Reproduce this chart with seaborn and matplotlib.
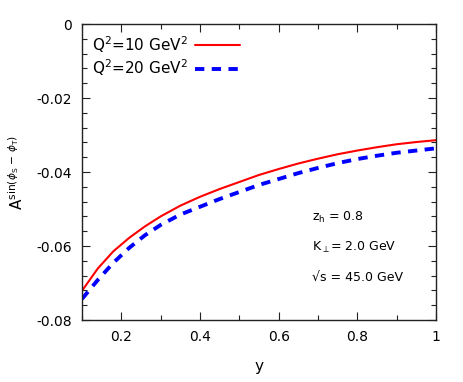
import numpy as np
import pandas as pd
import matplotlib
matplotlib.use("Agg")
import matplotlib.pyplot as plt
import seaborn as sns
from matplotlib.ticker import MultipleLocator

y_vals = [0.1, 0.14, 0.18, 0.22, 0.26, 0.3, 0.35, 0.4, 0.45, 0.5,
          0.55, 0.6, 0.65, 0.7, 0.75, 0.8, 0.85, 0.9, 0.95, 1.0]
A_q10 = [-0.0721, -0.0661, -0.0614, -0.0578, -0.0547, -0.0520, -0.0491, -0.0467, -0.0446, -0.0427,
         -0.0408, -0.0392, -0.0377, -0.0364, -0.0352, -0.0342, -0.0333, -0.0325, -0.0319, -0.0314]
A_q20 = [-0.0743, -0.0692, -0.0645, -0.0605, -0.0571, -0.0543, -0.0515, -0.0494, -0.0473, -0.0454,
         -0.0435, -0.0419, -0.0403, -0.0389, -0.0376, -0.0365, -0.0356, -0.0348, -0.0342, -0.0336]
labels = [r"Q$^2$=10 GeV$^2$", r"Q$^2$=20 GeV$^2$"]

sns.set_style("ticks")
plt.rcParams['font.family'] = ['DejaVu Sans']
plt.rcParams['mathtext.fontset'] = 'dejavusans'
plt.rcParams['text.color'] = 'black'
plt.rcParams['axes.labelcolor'] = 'black'
plt.rcParams['xtick.color'] = 'black'
plt.rcParams['ytick.color'] = 'black'

df = pd.DataFrame({
    "y": y_vals * 2,
    "A": A_q10 + A_q20,
    "Q2": [labels[0]] * len(y_vals) + [labels[1]] * len(y_vals),
})

fig = plt.figure(figsize=(4.63, 3.82), dpi=100)
ax = fig.add_axes([82/463, 1 - 320/382, (436-82)/463, (320-24)/382])

sns.lineplot(data=df, x="y", y="A", hue="Q2", style="Q2",
             palette={labels[0]: "#ff0000", labels[1]: "#0000ff"},
             dashes={labels[0]: "", labels[1]: (2.4, 1.9)},
             linewidth=1.5, ax=ax)
for ln in ax.get_lines():
    if ln.get_color() == "#0000ff":
        ln.set_linewidth(2.8)

ax.set_xlim(0.1, 1.0)
ax.set_ylim(-0.08, 0.0)
ax.xaxis.set_minor_locator(MultipleLocator(0.1))
ax.yaxis.set_minor_locator(MultipleLocator(0.004))
ax.set_xticks([0.2, 0.4, 0.6, 0.8, 1.0])
ax.set_xticklabels(["0.2", "0.4", "0.6", "0.8", "1"])
ax.set_yticks([0, -0.02, -0.04, -0.06, -0.08])
ax.set_yticklabels(["0", "-0.02", "-0.04", "-0.06", "-0.08"])
ax.tick_params(which="both", direction="in", top=True, right=True, labelsize=10, pad=7, width=0.8,
               color="#222222")
ax.tick_params(which="major", length=6)
ax.tick_params(which="minor", length=3.5)
for s in ax.spines.values():
    s.set_linewidth(1.0)
    s.set_color("#222222")

ax.set_xlabel("y", fontsize=11, labelpad=11)
ax.set_ylabel(r"A$^{\mathrm{sin}(\phi_\mathrm{S}\ \mathrm{-}\ \phi_\mathrm{T})}$", fontsize=11, labelpad=8)

ax.legend(title=None, loc="upper left", frameon=False, markerfirst=False,
          fontsize=11, handlelength=2.9, handletextpad=0.5, labelspacing=0.2,
          borderaxespad=0.25, bbox_to_anchor=(0.0, 1.0))

ax.text(0.65, 0.345, r"z$_\mathrm{h}$ = 0.8", transform=ax.transAxes, fontsize=9, va="center")
ax.text(0.65, 0.245, r"K$_\perp$= 2.0 GeV", transform=ax.transAxes, fontsize=9, va="center")
ax.text(0.65, 0.145, "\u221as = 45.0 GeV", transform=ax.transAxes, fontsize=9, va="center")

fig.savefig("out.png", dpi=100)
